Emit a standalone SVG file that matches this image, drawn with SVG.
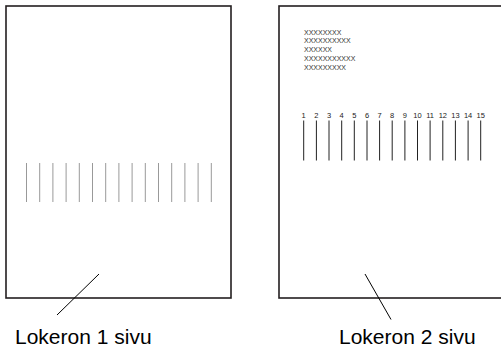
<svg xmlns="http://www.w3.org/2000/svg" width="501" height="349" viewBox="0 0 501 349">
<style>
.page{fill:#fff;stroke:#231f20;stroke-width:1.6}
.lead{stroke:#000;stroke-width:1;fill:none}
.lbl{font-family:"Liberation Sans",Arial,sans-serif;font-size:21px;fill:#000}
.xx{font-family:"Liberation Sans",Arial,sans-serif;font-size:7px;fill:#333}
.num{font-family:"Liberation Sans",Arial,sans-serif;font-size:7.5px;fill:#222;text-anchor:middle}
.g1{stroke:#999;stroke-width:1}
.g2{stroke:#222;stroke-width:1}
</style>
<rect width="501" height="349" fill="#fff"/>
<g id="page1">
<rect class="page" x="6" y="6" width="225" height="292"/>
<g class="g1">
<line x1="26.5" y1="163" x2="26.5" y2="202"/>
<line x1="39.7" y1="163" x2="39.7" y2="202"/>
<line x1="52.9" y1="163" x2="52.9" y2="202"/>
<line x1="66.1" y1="163" x2="66.1" y2="202"/>
<line x1="79.3" y1="163" x2="79.3" y2="202"/>
<line x1="92.5" y1="163" x2="92.5" y2="202"/>
<line x1="105.7" y1="163" x2="105.7" y2="202"/>
<line x1="118.9" y1="163" x2="118.9" y2="202"/>
<line x1="132.1" y1="163" x2="132.1" y2="202"/>
<line x1="145.3" y1="163" x2="145.3" y2="202"/>
<line x1="158.5" y1="163" x2="158.5" y2="202"/>
<line x1="171.7" y1="163" x2="171.7" y2="202"/>
<line x1="184.9" y1="163" x2="184.9" y2="202"/>
<line x1="198.1" y1="163" x2="198.1" y2="202"/>
<line x1="211.3" y1="163" x2="211.3" y2="202"/>
</g>
<text class="lbl" x="15" y="344">Lokeron 1 sivu</text>
</g>
<g id="page2">
<rect class="page" x="279" y="6" width="230" height="292"/>
<text class="xx" x="304" y="34.5">XXXXXXXX</text>
<text class="xx" x="304" y="43.3">XXXXXXXXXX</text>
<text class="xx" x="304" y="52.1">XXXXXX</text>
<text class="xx" x="304" y="60.9">XXXXXXXXXXX</text>
<text class="xx" x="304" y="69.7">XXXXXXXXX</text>
<g class="g2">
<line x1="303.7" y1="120.5" x2="303.7" y2="160.5"/>
<line x1="316.4" y1="120.5" x2="316.4" y2="160.5"/>
<line x1="329" y1="120.5" x2="329" y2="160.5"/>
<line x1="341.7" y1="120.5" x2="341.7" y2="160.5"/>
<line x1="354.3" y1="120.5" x2="354.3" y2="160.5"/>
<line x1="367" y1="120.5" x2="367" y2="160.5"/>
<line x1="379.6" y1="120.5" x2="379.6" y2="160.5"/>
<line x1="392.2" y1="120.5" x2="392.2" y2="160.5"/>
<line x1="404.9" y1="120.5" x2="404.9" y2="160.5"/>
<line x1="417.5" y1="120.5" x2="417.5" y2="160.5"/>
<line x1="430.1" y1="120.5" x2="430.1" y2="160.5"/>
<line x1="442.8" y1="120.5" x2="442.8" y2="160.5"/>
<line x1="455.4" y1="120.5" x2="455.4" y2="160.5"/>
<line x1="468.1" y1="120.5" x2="468.1" y2="160.5"/>
<line x1="480.7" y1="120.5" x2="480.7" y2="160.5"/>
</g>
<text class="num" x="303.7" y="118">1</text>
<text class="num" x="316.4" y="118">2</text>
<text class="num" x="329" y="118">3</text>
<text class="num" x="341.7" y="118">4</text>
<text class="num" x="354.3" y="118">5</text>
<text class="num" x="367" y="118">6</text>
<text class="num" x="379.6" y="118">7</text>
<text class="num" x="392.2" y="118">8</text>
<text class="num" x="404.9" y="118">9</text>
<text class="num" x="417.5" y="118">10</text>
<text class="num" x="430.1" y="118">11</text>
<text class="num" x="442.8" y="118">12</text>
<text class="num" x="455.4" y="118">13</text>
<text class="num" x="468.1" y="118">14</text>
<text class="num" x="480.7" y="118">15</text>
<text class="lbl" x="339" y="344">Lokeron 2 sivu</text>
</g>
<g id="connectors">
<line class="lead" x1="99" y1="274" x2="57" y2="315"/>
<line class="lead" x1="365" y1="274" x2="391" y2="319.5"/>
</g>
</svg>
